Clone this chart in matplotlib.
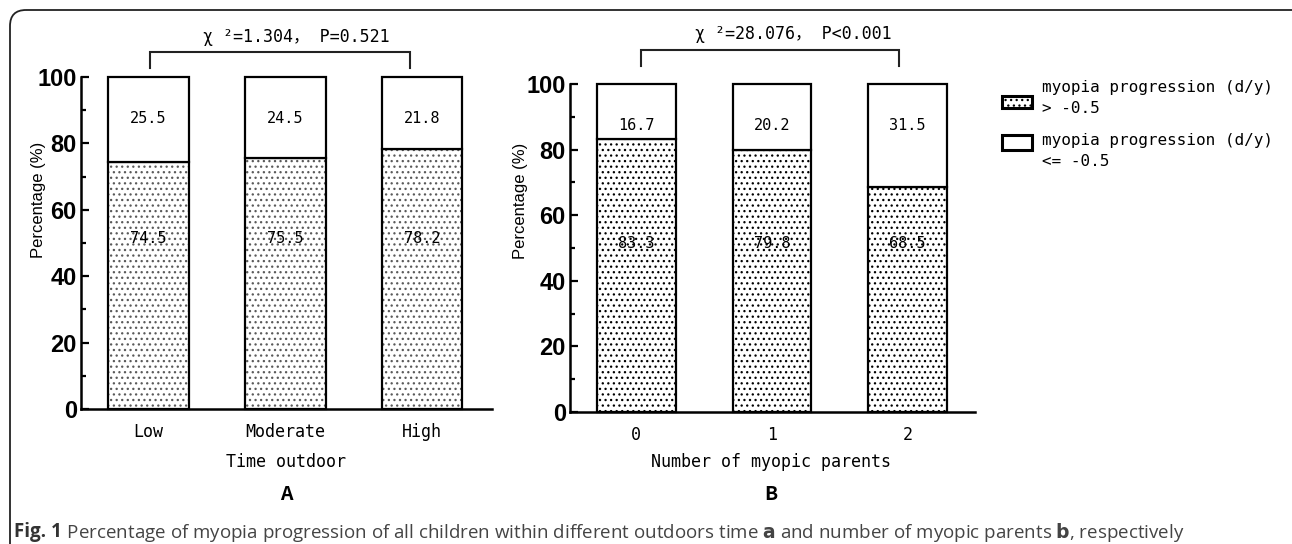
import matplotlib
matplotlib.use("Agg")
import matplotlib.pyplot as plt
from matplotlib.patches import FancyBboxPatch, Rectangle
import matplotlib.transforms as mtrans
import numpy as np

# ---------------- data ----------------
cats_a = ["Low", "Moderate", "High"]
low_a = [74.5, 75.5, 78.2]      # myopia progression > -0.5
high_a = [25.5, 24.5, 21.8]     # myopia progression <= -0.5
cats_b = ["0", "1", "2"]
low_b = [83.3, 79.8, 68.5]
high_b = [16.7, 20.2, 31.5]
yticks = [0, 20, 40, 60, 80, 100]
stat_a = "χ ²=1.304， P=0.521"
stat_b = "χ ²=28.076， P<0.001"
xlabel_a = "Time outdoor"
xlabel_b = "Number of myopic parents"
legend_labels = ["myopia progression (d/y)\n> -0.5", "myopia progression (d/y)\n<= -0.5"]
caption_bold = "Fig. 1"
caption_rest = (" Percentage of myopia progression of all children within different outdoors time "
                "$\\bf{a}$ and number of myopic parents $\\bf{b}$, respectively")

W, H = 1292, 544
MONO = ["DejaVu Sans Mono", "Noto Sans CJK SC", "DejaVu Sans"]
plt.rcParams["hatch.linewidth"] = 0.9

fig = plt.figure(figsize=(W / 100, H / 100), dpi=100)


def px_axes(left, top, right, bottom):
    return fig.add_axes([left / W, 1 - bottom / H, (right - left) / W, (bottom - top) / H])


def panel(ax, cats, low, high, width, xlim, hatch_col):
    x = np.arange(len(cats))
    ax.bar(x, low, width, color="white", edgecolor=hatch_col, linewidth=0,
           hatch="...", zorder=2, clip_on=False)
    ax.bar(x, low, width, fill=False, edgecolor="black", linewidth=1.6,
           zorder=3, clip_on=False)
    ax.bar(x, high, width, bottom=low, color="white", edgecolor="black",
           linewidth=1.6, zorder=3, clip_on=False)
    for xi, lo, hi in zip(x, low, high):
        ax.text(xi, 87.5, f"{hi:.1f}", ha="center", va="center",
                fontsize=11, family=MONO, zorder=5)
        ax.text(xi, 51.5, f"{lo:.1f}", ha="center", va="center",
                fontsize=11, family=MONO, zorder=5)
    ax.set_xlim(*xlim)
    ax.set_ylim(0, 100)
    ax.set_yticks(yticks)
    ax.set_yticks(np.arange(10, 100, 20), minor=True)
    ax.set_yticklabels([str(t) for t in yticks], fontsize=17, fontweight="bold",
                       family="Liberation Sans")
    ax.tick_params(axis="y", which="major", direction="in", length=6, width=1.6, pad=3)
    ax.tick_params(axis="y", which="minor", direction="in", length=3.5, width=1.6)
    ax.set_xticks(x)
    ax.set_xticklabels(cats, fontsize=12, family=MONO)
    ax.tick_params(axis="x", length=0, pad=10)
    for s in ["top", "right"]:
        ax.spines[s].set_visible(False)
    for s in ["left", "bottom"]:
        ax.spines[s].set_linewidth(1.8)
    ax.set_facecolor("none")


ax_a = px_axes(81, 77, 492, 409)
panel(ax_a, cats_a, low_a, high_a, 0.59, (-0.494, 2.512), "#5a5a5a")
ax_b = px_axes(570, 84, 975, 412)
panel(ax_b, cats_b, low_b, high_b, 0.58, (-0.49, 2.50), "black")

# ---------------- overlay in pixel coordinates ----------------
ov = fig.add_axes([0, 0, 1, 1], zorder=-1)
ov.set_xlim(0, W)
ov.set_ylim(H, 0)
ov.axis("off")

ov.add_patch(FancyBboxPatch((10, 10), 1300, 560, boxstyle="round,pad=0,rounding_size=16",
                            fill=False, edgecolor="#222222", linewidth=1.3, clip_on=False))

for (x0, x1, top, bot) in [(150, 410, 52, 68), (641, 899, 50, 66)]:
    ov.plot([x0, x0, x1, x1], [bot, top, top, bot], color="#222222", lw=1.5,
            solid_joinstyle="miter", clip_on=False)
ov.text(296, 37, stat_a, ha="center", va="center", fontsize=12, family=MONO)
ov.text(793, 34, stat_b, ha="center", va="center", fontsize=12, family=MONO)

ov.text(39, 200, "Percentage (%)", rotation=90, ha="center", va="center",
        fontsize=12, family="Liberation Sans")
ov.text(520, 201, "Percentage (%)", rotation=90, ha="center", va="center",
        fontsize=12, family="Liberation Sans")
ov.text(286, 462, xlabel_a, ha="center", va="center", fontsize=12, family=MONO)
ov.text(771, 462, xlabel_b, ha="center", va="center", fontsize=12, family=MONO)
ov.text(286, 494, "A", ha="center", va="center", fontsize=14, fontweight="bold",
        family="Noto Sans CJK SC")
ov.text(771, 494, "B", ha="center", va="center", fontsize=14, fontweight="bold",
        family="Noto Sans CJK SC")

ov.add_patch(Rectangle((1002, 96), 30, 12, facecolor="white", edgecolor="black",
                       hatch="...", linewidth=2.2))
ov.add_patch(Rectangle((1002, 135), 30, 15, facecolor="white", edgecolor="black",
                       linewidth=2.2))
for lab, yc in zip(legend_labels, [98, 151]):
    ov.text(1042, yc, lab, ha="left", va="center", fontsize=11.5, family=MONO,
            linespacing=1.5)

t = ov.text(14, 532, caption_bold, ha="left", va="center", fontsize=13.5,
            family="Open Sans", fontweight="bold", color="#333333")
fig.canvas.draw()
xend = t.get_window_extent().x1
ov.text(xend, 532, caption_rest, ha="left", va="center", fontsize=13.5,
        family="Open Sans", color="#444444",
        transform=mtrans.blended_transform_factory(mtrans.IdentityTransform(), ov.transData))

fig.savefig("out.png", dpi=100)
